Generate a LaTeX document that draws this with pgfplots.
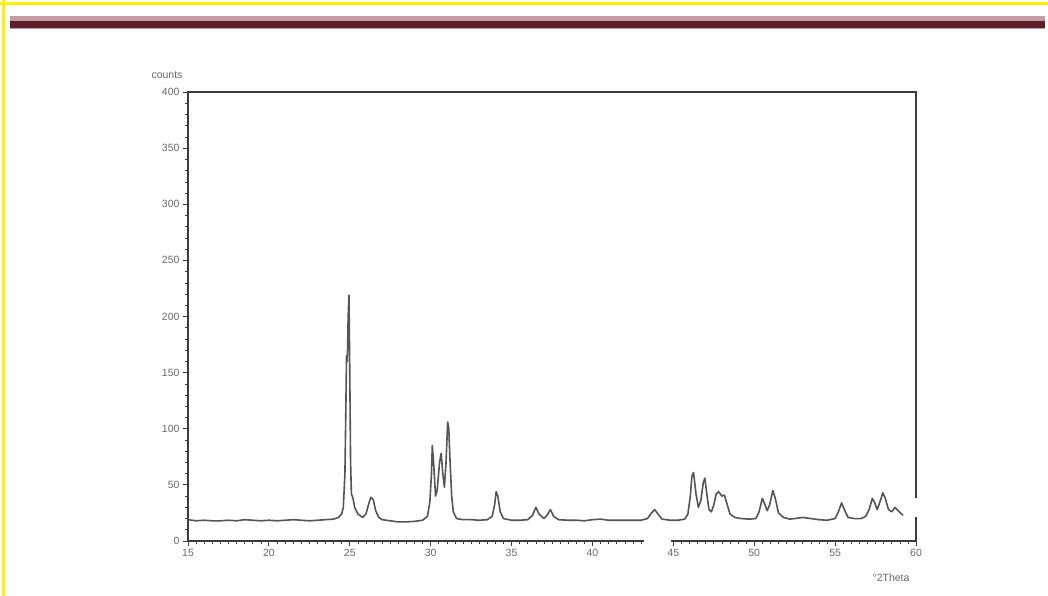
\documentclass[border=0pt]{standalone}
\usepackage{pgfplots}
\pgfplotsset{compat=1.18}
\usepackage{fontspec}
\setmainfont{Liberation Sans}
\definecolor{barlight}{HTML}{C49CA1}
\definecolor{bardark}{HTML}{5C1C28}
\definecolor{txt}{HTML}{6A6A6A}
\definecolor{axc}{HTML}{3C3C3C}
\definecolor{curve}{HTML}{555555}
\begin{document}
\begin{tikzpicture}
\path[use as bounding box,fill=white] (0pt,0pt) rectangle (1048pt,-596pt);
% yellow border
\fill[yellow] (0pt,-2.5pt) rectangle (1048pt,-5pt);
\fill[yellow] (2pt,0pt) rectangle (4.5pt,-596pt);
% red bar
\fill[barlight] (10pt,-16.5pt) rectangle (1045pt,-29.5pt);
\fill[bardark] (10pt,-21pt) rectangle (1045pt,-28pt);
\begin{axis}[
  at={(188pt,-541pt)}, anchor=south west,
  scale only axis, width=728pt, height=449pt,
  xmin=15, xmax=60, ymin=0, ymax=400,
  xtick distance=5, ytick distance=50,
  minor x tick num=9, minor y tick num=4,
  tick pos=left,
  tick align=outside,
  major tick length=5pt, minor tick length=3pt,
  axis line style={axc, line width=1.1pt},
  every tick/.style={axc, line width=0.8pt},
  every minor tick/.style={axc, line width=0.6pt},
  /pgf/number format/assume math mode=true,
  ticklabel style={font=\fontsize{10.5}{12}\selectfont, text=txt},
  clip=false,
]
\addplot[curve, line width=1.6pt, line join=round] coordinates {
(15.0,19) (15.5,18) (16,18.5) (16.5,18) (17,18) (17.5,18.5) (18,18) (18.5,19)
(19,18.5) (19.5,18) (20,18.5) (20.5,18) (21,18.5) (21.5,19) (22,18.5) (22.5,18)
(23,18.5) (23.5,19) (24.0,19.5) (24.3,21) (24.5,24) (24.6,30) (24.7,60) (24.75,110)
(24.8,165) (24.85,160) (24.9,200) (24.95,219) (25.0,150) (25.05,70) (25.1,42) (25.2,38)
(25.3,30) (25.5,24) (25.8,21) (26.0,24) (26.15,32) (26.3,39) (26.45,37) (26.6,27)
(26.8,21) (27.0,19) (27.5,18) (28,17) (28.5,17) (29,17.5) (29.5,18.5) (29.8,22)
(29.95,35) (30.05,60) (30.1,85) (30.18,70) (30.3,40) (30.4,45) (30.55,70) (30.65,78)
(30.75,60) (30.85,48) (30.95,70) (31.05,106) (31.12,100) (31.2,70) (31.3,40) (31.4,26)
(31.6,20) (32,19) (32.5,19) (33,18.5) (33.5,19) (33.8,22) (33.95,32) (34.05,44)
(34.15,40) (34.3,26) (34.5,20) (35,18.5) (35.5,18.5) (36,19) (36.3,23) (36.5,30)
(36.7,24) (37.0,20) (37.2,23) (37.4,28) (37.6,22) (37.9,19) (38.5,18.5) (39,18.5)
(39.5,18) (40,19) (40.5,19.5) (41,18.5) (41.5,18.5) (42,18.5) (42.5,18.5) (43,18.5)
(43.4,20) (43.65,25) (43.85,28) (44.05,24) (44.3,19.5) (44.8,18.5) (45.3,18.5) (45.7,19.5)
(45.9,24) (46.05,40) (46.15,58) (46.25,61) (46.4,42) (46.55,30) (46.7,36) (46.85,52)
(46.95,56) (47.05,44) (47.2,28) (47.35,26) (47.5,32) (47.65,42) (47.8,44) (48.0,40)
(48.15,41) (48.3,34) (48.5,24) (48.8,21) (49.2,20) (49.7,19.5) (50.1,20) (50.3,26)
(50.5,38) (50.65,33) (50.8,27) (50.95,32) (51.15,45) (51.3,38) (51.5,25) (51.8,21)
(52.2,19.5) (52.5,20) (53,21) (53.5,20) (54,19) (54.5,18.5) (55.0,20) (55.2,26)
(55.4,34) (55.6,27) (55.8,21) (56.2,20) (56.6,20) (56.9,22) (57.1,28) (57.3,38)
(57.45,34) (57.6,28) (57.8,36) (57.95,43) (58.1,38) (58.3,28) (58.5,26) (58.7,30)
(58.9,27) (59.1,24) (59.2,23)
};
\coordinate (ga) at (axis cs:43.2,0);
\coordinate (gb) at (axis cs:44.85,0);
\coordinate (ra) at (axis cs:60,21);
\coordinate (rb) at (axis cs:60,38);
\end{axis}
% gaps in the frame as in the reference
\fill[white] ([yshift=6pt]ga) rectangle ([yshift=-8pt]gb);
\fill[white] ([xshift=-4pt]ra) rectangle ([xshift=4pt]rb);
\node[text=txt, font=\fontsize{10.5}{12}\selectfont] at (167pt,-75pt) {counts};
\node[text=txt, font=\fontsize{10.5}{12}\selectfont] at (891pt,-578pt) {°2Theta};
\end{tikzpicture}
\end{document}
